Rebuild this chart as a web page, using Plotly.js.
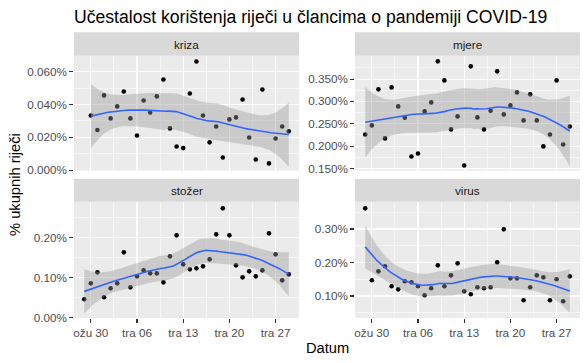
<!DOCTYPE html>
<html>
<head>
<meta charset="utf-8">
<script src="https://cdn.plot.ly/plotly-3.0.1.min.js"></script>
<style>html,body{margin:0;padding:0;background:#fff;}#chart{width:588px;height:363px;}</style>
</head>
<body>
<div id="chart"></div>
<script>
// ---------------- data (values in % of all words) ----------------
const dates = ["2020-03-29","2020-03-30","2020-03-31","2020-04-01","2020-04-02","2020-04-03","2020-04-04","2020-04-05",
  "2020-04-06","2020-04-07","2020-04-08","2020-04-09","2020-04-10","2020-04-11","2020-04-12","2020-04-13",
  "2020-04-14","2020-04-15","2020-04-16","2020-04-17","2020-04-18","2020-04-19","2020-04-20","2020-04-21",
  "2020-04-22","2020-04-23","2020-04-24","2020-04-25","2020-04-26","2020-04-27","2020-04-28","2020-04-29"];

const kriza = [null,0.0333,0.0244,0.0455,0.0315,0.0388,0.0479,0.0315,
  0.0211,0.0424,0.0351,0.0449,0.0552,0.0254,0.0144,0.0134,
  0.0467,0.0662,0.0333,0.0169,0.0266,0.0077,0.0309,0.0321,
  0.0430,0.0199,0.0065,0.0491,0.0041,0.0193,0.0266,0.0236];

const mjere = [0.2261,0.2463,0.3269,0.2172,0.3313,0.2888,0.2634,0.1769,
  0.1836,0.2776,0.2978,0.3896,0.3470,0.2373,0.2664,0.1567,
  0.3784,0.2642,0.2373,0.2791,0.3672,0.2709,0.2910,0.3201,
  0.2575,0.3157,0.2575,0.1993,0.2261,0.3470,0.2037,0.2440];

const stozer = [0.0458,0.0858,0.1133,0.0508,0.0733,0.0858,0.1633,0.0758,
  0.1033,0.1183,0.1108,0.1108,0.0883,0.1533,0.2058,0.1333,
  0.1208,0.1233,0.1283,0.1458,0.2083,0.2733,0.2058,0.1308,
  0.1008,0.1158,0.1033,0.1183,0.2108,0.1583,0.0933,0.1083];

const virus = [0.3617,0.1468,0.1736,0.1886,0.1289,0.1199,0.1438,0.1408,
  0.1289,0.1020,0.1229,0.1915,0.1289,0.1617,0.1975,0.1139,
  0.1050,0.1259,0.1229,0.1259,0.2005,0.2990,0.1527,0.1527,
  0.0871,0.1259,0.1617,0.1557,0.0871,0.1498,0.0841,0.1587];

const facetNames = ["kriza","mjere","stožer","virus"];
const facetValues = [kriza, mjere, stozer, virus];

const xTickVals = ["2020-03-30","2020-04-06","2020-04-13","2020-04-20","2020-04-27"];
const xTickText = ["ožu 30","tra 06","tra 13","tra 20","tra 27"];
const xMinorVals = ["2020-04-02 12:00","2020-04-09 12:00","2020-04-16 12:00","2020-04-23 12:00"];

const yMajor = [[0,0.02,0.04,0.06],[0.15,0.2,0.25,0.3,0.35],[0,0.1,0.2],[0.1,0.2,0.3]];
const yMinor = [[0.01,0.03,0.05],[0.175,0.225,0.275,0.325,0.375],[0.05,0.15,0.25],[0.05,0.15,0.25,0.35]];
const yDecimals = [3,3,2,2];

// ---------------- loess (span 0.75, degree 2) like ggplot2 geom_smooth ----------------
const DAY = 86400000;
const base = Date.UTC(2020,2,29);
function dayNum(s){ const p=s.split("-"); return (Date.UTC(+p[0],+p[1]-1,+p[2]) - base)/DAY; }
function fmt(d){ const dt=new Date(base + d*DAY); const p=n=>String(n).padStart(2,"0");
  return dt.getUTCFullYear()+"-"+p(dt.getUTCMonth()+1)+"-"+p(dt.getUTCDate())+" "+p(dt.getUTCHours())+":"+p(dt.getUTCMinutes())+":"+p(dt.getUTCSeconds()); }

function inv3(m){
  const [a,b,c]=m[0],[d,e,f]=m[1],[g,h,i]=m[2];
  const A=e*i-f*h, B=-(d*i-f*g), C=d*h-e*g;
  const det=a*A+b*B+c*C;
  return [[A/det,-(b*i-c*h)/det,(b*f-c*e)/det],
          [B/det,(a*i-c*g)/det,-(a*f-c*d)/det],
          [C/det,-(a*h-b*g)/det,(a*e-b*d)/det]];
}
function qt975(df){
  const z=1.959963985;
  const g1=(Math.pow(z,3)+z)/4;
  const g2=(5*Math.pow(z,5)+16*Math.pow(z,3)+3*z)/96;
  const g3=(3*Math.pow(z,7)+19*Math.pow(z,5)+17*Math.pow(z,3)-15*z)/384;
  const g4=(79*Math.pow(z,9)+776*Math.pow(z,7)+1482*Math.pow(z,5)-1920*Math.pow(z,3)-945*z)/92160;
  return z+g1/df+g2/(df*df)+g3/Math.pow(df,3)+g4/Math.pow(df,4);
}
function loess(xs, ys, span, nOut){
  const n=xs.length, q=Math.floor(n*span);
  function hatRow(x0){
    const d=xs.map(x=>Math.abs(x-x0));
    const h=d.slice().sort((a,b)=>a-b)[q-1];
    const w=d.map(di=>{const u=di/h; return u<1?Math.pow(1-u*u*u,3):0;});
    const B=xs.map(x=>{const t=(x-x0)/h; return [1,t,t*t];});
    const M=[[0,0,0],[0,0,0],[0,0,0]];
    for(let k=0;k<n;k++) for(let a=0;a<3;a++) for(let b=0;b<3;b++) M[a][b]+=w[k]*B[k][a]*B[k][b];
    const Mi=inv3(M);
    return B.map((bk,k)=>w[k]*(Mi[0][0]*bk[0]+Mi[0][1]*bk[1]+Mi[0][2]*bk[2]));
  }
  const L=xs.map(x=>hatRow(x));
  const IL=L.map((row,i)=>row.map((v,j)=>(i===j?1:0)-v));
  let one=0; IL.forEach(r=>r.forEach(v=>one+=v*v));
  const A=[]; for(let i=0;i<n;i++){A.push([]); for(let j=0;j<n;j++){let s=0; for(let k=0;k<n;k++) s+=IL[k][i]*IL[k][j]; A[i].push(s);}}
  let two=0; A.forEach(r=>r.forEach(v=>two+=v*v));
  let rss=0; for(let i=0;i<n;i++){let f=0; for(let j=0;j<n;j++) f+=L[i][j]*ys[j]; rss+=(ys[i]-f)*(ys[i]-f);}
  const sigma=Math.sqrt(rss/one), df=one*one/two, tq=qt975(df);
  const xmin=Math.min(...xs), xmax=Math.max(...xs);
  const out={x:[],fit:[],lo:[],hi:[]};
  for(let k=0;k<nOut;k++){
    const x0=xmin+(xmax-xmin)*k/(nOut-1);
    const l=hatRow(x0);
    let f=0,s2=0; for(let j=0;j<n;j++){f+=l[j]*ys[j]; s2+=l[j]*l[j];}
    const se=sigma*Math.sqrt(s2);
    out.x.push(x0); out.fit.push(f); out.lo.push(f-tq*se); out.hi.push(f+tq*se);
  }
  return out;
}

// ---------------- layout geometry (pixels of 588x363) ----------------
const W=588,H=363;
const cols=[[74,299],[355,580]];
const rows=[[55.7,170.6],[201.7,318]];
const strips=[[32.3,55.7],[179,201.7]];
const yRanges=[[-0.0003,0.0697],[0.1452,0.4022],[-0.0009,0.2899],[0.0343,0.3815]];
const xRange=["2020-03-27 10:48:00","2020-04-30 13:12:00"];
const FONT="Liberation Sans, Arial, sans-serif";

const traces=[], shapes=[], annotations=[];
const layout={
  width:W,height:H,margin:{l:0,r:0,t:0,b:0},
  paper_bgcolor:"#fff",plot_bgcolor:"#EBEBEB",showlegend:false,
  font:{family:FONT,color:"#4D4D4D",size:11.7},
  title:{text:"Učestalost korištenja riječi u člancima o pandemiji COVID-19",
    x:74/W,xanchor:"left",xref:"paper",y:1-16.5/H,yanchor:"middle",
    font:{family:FONT,size:17.6,color:"#000"}},
};

facetValues.forEach((vals,idx)=>{
  const r=Math.floor(idx/2), c=idx%2, s=idx===0?"":String(idx+1);
  const xs=[],ys=[],xd=[];
  vals.forEach((v,i)=>{ if(v!==null){ xs.push(dayNum(dates[i])); ys.push(v); xd.push(dates[i]); }});
  const sm=loess(xs,ys,0.75,80);
  const sx=sm.x.map(fmt);
  traces.push({type:"scatter",mode:"markers",x:xd,y:ys,xaxis:"x"+s,yaxis:"y"+s,
    marker:{color:"#000",size:4.6},hoverinfo:"skip"});
  traces.push({type:"scatter",mode:"lines",x:sx.concat(sx.slice().reverse()),y:sm.hi.concat(sm.lo.slice().reverse()),
    xaxis:"x"+s,yaxis:"y"+s,fill:"toself",fillcolor:"rgba(153,153,153,0.4)",line:{width:0},hoverinfo:"skip"});
  traces.push({type:"scatter",mode:"lines",x:sx,y:sm.fit,xaxis:"x"+s,yaxis:"y"+s,
    line:{color:"#3366FF",width:1.6},hoverinfo:"skip"});

  layout["xaxis"+s]={domain:[cols[c][0]/W,cols[c][1]/W],anchor:"y"+s,type:"date",range:xRange,
    tickmode:"array",tickvals:xTickVals,ticktext:xTickText,showticklabels:r===1,
    ticks:r===1?"outside":"",ticklen:3.7,tickwidth:1.07,tickcolor:"#333333",
    showgrid:true,gridcolor:"#FFFFFF",gridwidth:1.07,zeroline:false,showline:false,
    tickfont:{family:FONT,size:11.7,color:"#4D4D4D"},
    minor:{tickmode:"array",tickvals:xMinorVals,showgrid:true,gridcolor:"#FFFFFF",gridwidth:0.53,ticks:""}};
  layout["yaxis"+s]={domain:[1-rows[r][1]/H,1-rows[r][0]/H],anchor:"x"+s,range:yRanges[idx],
    tickmode:"array",tickvals:yMajor[idx],ticktext:yMajor[idx].map(v=>v.toFixed(yDecimals[idx])+"%"),
    ticks:"outside",ticklen:3.7,tickwidth:1.07,tickcolor:"#333333",
    showgrid:true,gridcolor:"#FFFFFF",gridwidth:1.07,zeroline:false,showline:false,
    tickfont:{family:FONT,size:11.7,color:"#4D4D4D"},
    minor:{tickmode:"array",tickvals:yMinor[idx],showgrid:true,gridcolor:"#FFFFFF",gridwidth:0.53,ticks:""}};

  shapes.push({type:"rect",xref:"paper",yref:"paper",x0:cols[c][0]/W,x1:cols[c][1]/W,
    y0:1-strips[r][1]/H,y1:1-strips[r][0]/H,fillcolor:"#D9D9D9",line:{width:0},layer:"below"});
  annotations.push({xref:"paper",yref:"paper",x:(cols[c][0]+cols[c][1])/2/W,y:1-(strips[r][0]+strips[r][1])/2/H,
    text:facetNames[idx],showarrow:false,xanchor:"center",yanchor:"middle",
    font:{family:FONT,size:11.7,color:"#1A1A1A"}});
});

annotations.push({xref:"paper",yref:"paper",x:(74+580)/2/W,y:1-348/H,text:"Datum",showarrow:false,
  xanchor:"center",yanchor:"middle",font:{family:FONT,size:14.7,color:"#000"}});
annotations.push({xref:"paper",yref:"paper",x:15/W,y:1-185/H,text:"% ukupnih riječi",showarrow:false,textangle:-90,
  xanchor:"center",yanchor:"middle",font:{family:FONT,size:14.7,color:"#000"}});
layout.shapes=shapes;
layout.annotations=annotations;

Plotly.newPlot("chart",traces,layout,{staticPlot:true,displayModeBar:false});
</script>
</body>
</html>
